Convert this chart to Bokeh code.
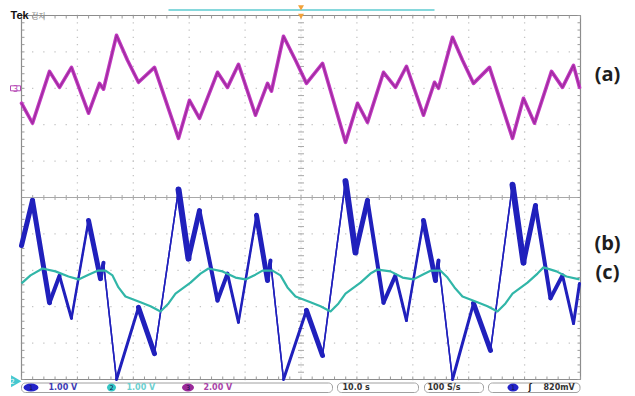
import numpy as np
from bokeh.plotting import figure
from bokeh.models import Range1d
from bokeh.core.properties import value
from bokeh.embed import file_html
from bokeh.resources import INLINE

# ---------------- data (time in s, values in V) ----------------
ch3_t = [0.00, 1.97, 5.01, 6.80, 8.94, 11.99, 13.95, 14.67, 16.99, 18.96, 20.93, 23.79, 28.09, 30.05, 31.84,
         35.06, 36.85, 38.82, 41.86, 44.01, 44.72, 46.87, 49.02, 50.98, 53.85, 57.96, 60.11, 61.90, 64.76,
         66.90, 68.87, 71.91, 73.88, 74.60, 77.10, 78.89, 80.86, 83.72, 87.84, 89.80, 91.77, 94.81, 96.78,
         98.75, 99.82]
ch3_v = [-0.82, -1.92, 0.93, 0.05, 1.15, -1.37, 0.27, -0.05, 2.91, 1.54, 0.33, 1.15, -2.75, -0.66, -1.65,
         0.88, 0.05, 1.32, -1.48, 0.27, -0.16, 2.86, 1.54, 0.27, 1.37, -2.97, -0.82, -1.87, 0.88,
         0.05, 1.21, -1.48, 0.33, 0.00, 2.80, 1.54, 0.27, 1.15, -2.75, -0.55, -1.92, 0.93, 0.05,
         1.26, 0.05]

ch1_t = [0.00, 1.97, 5.01, 6.80, 8.94, 11.99, 14.13, 14.67, 16.99, 20.93, 23.79, 28.09, 29.87, 31.84,
         35.06, 36.85, 38.82, 42.04, 44.01, 44.54, 46.87, 50.98, 53.85, 57.96, 59.75, 61.90, 64.76,
         66.90, 68.87, 71.91, 74.06, 74.60, 77.10, 80.86, 83.90, 87.84, 89.80, 91.95, 94.63, 96.78,
         98.75, 99.82]
ch1_v = [-1.32, -0.08, -2.89, -2.15, -3.32, -0.63, -2.23, -1.79, -5.00, -3.02, -4.29, 0.22, -1.68, -0.36,
         -2.83, -2.09, -3.43, -0.49, -2.28, -1.73, -5.00, -3.10, -4.34, 0.45, -1.51, -0.08, -2.89,
         -2.14, -3.38, -0.63, -2.28, -1.73, -5.00, -2.91, -4.20, 0.35, -1.79, -0.22, -2.77, -2.14,
         -3.46, -2.36]

ch2_t = [0.00, 1.61, 3.76, 6.08, 8.41, 10.20, 11.99, 13.60, 15.03, 16.28, 17.35, 18.60, 21.29, 23.08,
         24.87, 26.30, 27.55, 30.23, 32.02, 33.45, 35.96, 38.28, 40.07, 41.86, 43.11, 44.90, 46.33,
         47.58, 49.02, 51.70, 53.49, 55.28, 56.71, 57.96, 60.64, 62.43, 63.69, 66.01, 68.16, 70.12,
         71.73, 73.17, 74.96, 76.21, 77.46, 78.89, 81.57, 83.36, 85.15, 86.58, 87.84, 90.52, 92.31,
         93.38, 95.70, 97.49, 99.82]
ch2_v = [2.64, 2.86, 3.05, 2.97, 2.83, 2.75, 2.88, 2.99, 2.99, 2.86, 2.53, 2.28, 2.12, 2.01,
         1.87, 2.09, 2.36, 2.66, 2.91, 3.05, 2.97, 2.80, 2.75, 2.88, 2.99, 2.99, 2.86,
         2.53, 2.28, 2.12, 2.01, 1.87, 2.09, 2.36, 2.66, 2.91, 3.02, 2.97, 2.80, 2.75,
         2.88, 2.99, 2.99, 2.80, 2.53, 2.28, 2.12, 2.01, 1.87, 2.09, 2.36, 2.66, 2.91,
         3.08, 2.97, 2.83, 2.75]

channel_names = ["1", "2", "3"]
channel_scales = ["1.00 V", "1.00 V", "2.00 V"]
timebase_label = "10.0 s"
rate_label = "100 S/s"
trigger_label = "820mV"
trace_labels = ["(a)", "(b)", "(c)"]

# ---------------- styles ----------------
ch1_seg_width = [5, 5, 4, 3, 2.5, 5, 4, 1.5, 3, 5, 1.5, 6, 5, 4, 4, 3, 2.5, 5, 4, 1.5, 3, 5, 1.5, 6, 5,
                 4, 4, 3, 2.5, 5, 4, 1.5, 3, 5, 1.5, 6, 5, 4, 4, 3, 3]
C1, C2, C3 = "#2020bc", "#31b6a8", "#c23ac2"

OFF = 0                                 # page offset of the canvas
W, H = 635, 396
L, R, T, B = 21, 580, 15, 379          # scope screen in page pixels
ppx = (R - L) / 100.0                   # pixels per second
ppy = (B - T) / 10.0                    # pixels per division


def X(px):
    return (px - L) / ppx


def Y(py):
    return ((T + B) / 2.0 - py) / ppy


p = figure(width=W, height=H, output_backend="svg", toolbar_location=None,
           x_range=Range1d(X(OFF), X(OFF + W)), y_range=Range1d(Y(OFF + H), Y(OFF)),
           x_axis_location=None, y_axis_location=None,
           min_border=0, min_border_left=0, min_border_right=0, min_border_top=0, min_border_bottom=0)
p.outline_line_color = None
p.grid.visible = False
p.background_fill_color = "white"
p.border_fill_color = "white"

y0, y1 = Y(OFF + H), Y(OFF)
p.extra_y_ranges = {
    "ch1": Range1d(y0 * 1.0, y1 * 1.0),
    "ch2": Range1d(y0 + 5.0, y1 + 5.0),
    "ch3": Range1d((y0 - 3.0) * 2.0, (y1 - 3.0) * 2.0),
}

# ---------------- graticule ----------------
gx, gy = [], []
for d in range(1, 10):
    if d == 5:
        continue
    ys = np.arange(-5, 5.001, 0.2)
    gx += [d * 10.0] * len(ys)
    gy += list(ys)
    xs = np.arange(0, 100.001, 2.0)
    gx += list(xs)
    gy += [d - 5.0] * len(xs)
p.scatter(gx, gy, marker="square", size=1.3, color="#c4c4c4", line_color=None)

# centre lines
p.line([0, 100], [0, 0], color="#a8a8a8", line_width=1)
p.line([50, 50], [-5, 5], color="#c8c8c8", line_width=1, line_dash="1 3")
tx = np.arange(0, 100.001, 2.0)
p.segment(x0=tx, y0=-2.5 / ppy, x1=tx, y1=2.5 / ppy, color="#a8a8a8", line_width=1)
ty = np.arange(-5, 5.001, 0.2)
p.segment(x0=50 - 3 / ppx, y0=ty, x1=50 + 3 / ppx, y1=ty, color="#a8a8a8", line_width=1)

# border with inward ticks
p.line([0, 100, 100, 0, 0], [5, 5, -5, -5, 5], color="#8c8c8c", line_width=1.2)
p.segment(x0=tx, y0=5, x1=tx, y1=5 - 3 / ppy, color="#9a9a9a")
p.segment(x0=tx, y0=-5, x1=tx, y1=-5 + 3 / ppy, color="#9a9a9a")
p.segment(x0=0, y0=ty, x1=3 / ppx, y1=ty, color="#9a9a9a")
p.segment(x0=100, y0=ty, x1=100 - 3 / ppx, y1=ty, color="#9a9a9a")

# ---------------- traces ----------------
p.line(ch3_t, ch3_v, y_range_name="ch3", color=C3, line_width=3.6, line_join="round", line_cap="round")
p.line(ch3_t, ch3_v, y_range_name="ch3", color="#7a1c7a", line_width=1.3, alpha=0.5, line_join="round")

p.line(ch1_t, ch1_v, y_range_name="ch1", color=C1, line_width=1.5, line_join="round")
p.segment(x0=ch1_t[:-1], y0=ch1_v[:-1], x1=ch1_t[1:], y1=ch1_v[1:], y_range_name="ch1",
          color=C1, line_width=ch1_seg_width, line_cap="round")

p.line(ch2_t, ch2_v, y_range_name="ch2", color=C2, line_width=2.2, line_join="round")

# ---------------- ground markers ----------------
p.rect(x=[X(15)], y=[0], width=10 / ppx, height=10 / ppy, y_range_name="ch3",
       fill_color=None, line_color="#b548b5", line_width=1)
p.text(x=[X(15)], y=[0], text=[channel_names[2]], y_range_name="ch3", text_color="#b548b5",
       text_font=value("DejaVu Sans"), text_font_size="8px", text_align="center", text_baseline="middle")
p.scatter(x=[X(14)], y=[-0.05], y_range_name="ch2", marker="triangle", angle=-np.pi / 2,
          size=12, color="#45c8d0", line_color=None)
p.text(x=[X(12)], y=[-0.05], text=[channel_names[1]], y_range_name="ch2", text_color="white",
       text_font=value("DejaVu Sans"), text_font_size="7px", text_align="center", text_baseline="middle")

# ---------------- top bar ----------------
p.text(x=[X(10)], y=[Y(14.5)], text=["Tek"], text_color="#111111", text_font=value("Liberation Sans"),
       text_font_style="bold", text_font_size="11px", text_baseline="alphabetic")
p.text(x=[X(31)], y=[Y(14.5)], text=["정지"], text_color="#8a8a8a", text_font=value("Noto Sans CJK KR"),
       text_font_size="7.5px", text_baseline="alphabetic")
p.line([X(168), X(434)], [Y(9.5), Y(9.5)], color="#86d8dc", line_width=2)
p.scatter([50], [Y(6.5)], marker="inverted_triangle", size=6, color="#f2a23a", line_color=None)
p.scatter([50], [5.0], marker="inverted_triangle", size=6, color="#f2a23a", line_color=None)

# ---------------- trace labels ----------------
p.text(x=[X(607)] * 3, y=[Y(73), Y(242), Y(271)], text=trace_labels, text_color="#1e1e1e",
       text_font=value("Open Sans"), text_font_style="bold", text_font_size="20px",
       text_align="center", text_baseline="middle")


# ---------------- status bar ----------------
def rbox(x0, x1, yt, yb, r):
    pts = []
    for cx, cy, a0, a1 in [(x1 - r, yt + r, -90, 0), (x1 - r, yb - r, 0, 90),
                           (x0 + r, yb - r, 90, 180), (x0 + r, yt + r, 180, 270)]:
        for a in np.radians(np.linspace(a0, a1, 7)):
            pts.append((cx + r * np.cos(a), cy + r * np.sin(a)))
    pts.append(pts[0])
    p.line([X(q[0]) for q in pts], [Y(q[1]) for q in pts], color="#a0a0a0", line_width=1)


SB_T, SB_B, SB_Y = 382.5, 392.0, 387.0
rbox(21, 332, SB_T, SB_B, 4)
rbox(337, 418, SB_T, SB_B, 4)
rbox(424, 483, SB_T, SB_B, 4)
rbox(488, 579.5, SB_T, SB_B, 4)

oval_x = [30.5, 111, 187.5, 512.5]
oval_w = [15, 9, 12, 11]
oval_c = ["#2424c8", "#36c6c6", "#9a2a9a", "#2424c8"]
oval_t = [channel_names[0], channel_names[1], channel_names[2], channel_names[0]]
p.ellipse(x=[X(v) for v in oval_x], y=[Y(SB_Y)] * 4, width=[w / ppx for w in oval_w],
          height=8 / ppy, fill_color=oval_c, line_color=None)
p.text(x=[X(v) for v in oval_x], y=[Y(SB_Y)] * 4, text=oval_t, text_color="#10104a",
       text_font=value("DejaVu Sans"), text_font_size="6.5px", text_align="center", text_baseline="middle")

p.text(x=[X(48), X(126), X(203)], y=[Y(SB_Y)] * 3, text=channel_scales,
       text_color=["#3c3cb4", "#6ccfcf", "#a844a8"], text_font=value("DejaVu Sans"),
       text_font_style="bold", text_font_size="8px", text_baseline="middle")
p.text(x=[X(342), X(427), X(543)], y=[Y(SB_Y)] * 3, text=[timebase_label, rate_label, trigger_label],
       text_color="#333333", text_font=value("DejaVu Sans"), text_font_style="bold",
       text_font_size="8px", text_baseline="middle")
p.text(x=[X(528)], y=[Y(SB_Y)], text=["ʃ"], text_color="#222222", text_font=value("DejaVu Sans"),
       text_font_style="bold", text_font_size="8px", text_baseline="middle")

open("out.html", "w").write(file_html(p, INLINE))
